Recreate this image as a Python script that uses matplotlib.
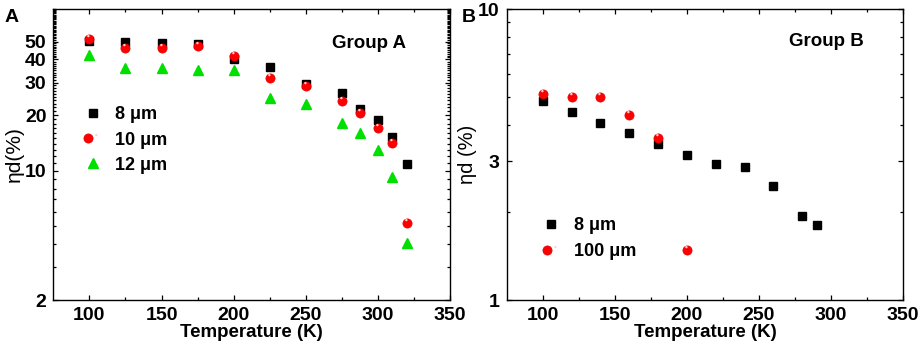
import numpy as np
import matplotlib
matplotlib.use("Agg")
import matplotlib.pyplot as plt
from matplotlib.path import Path
from matplotlib.ticker import FixedLocator, NullFormatter, LogLocator
from matplotlib.legend_handler import HandlerTuple

plt.rcParams["font.family"] = ["Liberation Sans", "DejaVu Sans"]

# ---- 数据：A 组 ----
temp_a = [100, 125, 150, 175, 200, 225, 250, 275, 288, 300, 310, 320]
eta_8um_a = [50.5, 50.0, 49.4, 48.7, 40.2, 36.2, 29.5, 26.3, 21.6, 18.9, 15.3, 10.9]
eta_10um_a = [51.5, 46.2, 46.4, 47.2, 42.0, 31.7, 28.6, 23.8, 20.5, 17.1, 14.2, 5.2]
eta_12um_a = [42.4, 35.9, 35.8, 35.3, 35.0, 24.9, 23.0, 18.1, 16.0, 12.9, 9.3, 4.07]

# ---- 数据：B 组 ----
temp_b_8um = [100, 120, 140, 160, 180, 200, 220, 240, 260, 280, 290]
eta_8um_b = [4.84, 4.44, 4.06, 3.74, 3.44, 3.14, 2.93, 2.86, 2.46, 1.95, 1.81]
temp_b_100um = [100, 120, 140, 160, 180, 200]
eta_100um_b = [5.09, 4.98, 4.98, 4.33, 3.60, 1.485]

yticks_a = [2, 10, 20, 30, 40, 50]
yticks_b = [1, 3, 10]
xticks = [100, 150, 200, 250, 300, 350]

RED = "#ff0000"
GREEN = "#00e000"

# 红球高光：偏左上的小圆点（自定义 marker 路径）
_t = np.linspace(0, 2 * np.pi, 30)
_hl = np.column_stack([-0.12 + 0.13 * np.cos(_t), 0.37 + 0.13 * np.sin(_t)])
_hl = np.vstack([_hl, [[0.5, -0.5], [-0.5, -0.5]]])  # 辅助点，固定缩放
_codes = [Path.MOVETO] + [Path.LINETO] * 29 + [Path.MOVETO, Path.MOVETO]
highlight = Path(_hl, _codes)


def ball(ax, x, y, ms):
    """画带高光的红色小球，返回 legend 用的 handle。"""
    h1, = ax.plot(x, y, "o", color=RED, ms=ms, mec="#e00000", mew=0.5, ls="none")
    h2, = ax.plot(x, y, marker=highlight, color="#ffd0d0", ms=ms, mew=0, ls="none")
    return (h1, h2)


def style_axes(ax):
    for s in ax.spines.values():
        s.set_linewidth(1.0)
    ax.set_xlim(75, 350)
    ax.set_xticks(xticks)
    ax.xaxis.set_minor_locator(FixedLocator([125, 175, 225, 275, 325]))
    ax.tick_params(which="both", direction="in", top=True, right=True, width=0.9)
    ax.tick_params(which="major", length=3.5, labelsize=14, pad=5)
    ax.tick_params(which="minor", length=2)
    for lab in ax.get_xticklabels() + ax.get_yticklabels():
        lab.set_fontweight("bold")
    ax.set_xlabel("Temperature (K)", fontsize=13.5, fontweight="bold", labelpad=0)


fig = plt.figure(figsize=(9.2, 3.52), dpi=100)
hmap = {tuple: HandlerTuple(ndivide=None, pad=0)}

# ---------------- A ----------------
ax1 = fig.add_axes([0.058, 0.1477, 0.431, 0.8267])
ax1.set_yscale("log")
h8, = ax1.plot(temp_a, eta_8um_a, "s", color="black", ms=5.6, ls="none")
h10 = ball(ax1, temp_a, eta_10um_a, 6.6)
h12, = ax1.plot(temp_a, eta_12um_a, "^", color=GREEN, ms=7.2, ls="none")
ax1.set_ylim(2, 75)
ax1.yaxis.set_major_locator(FixedLocator(yticks_a))
ax1.yaxis.set_major_formatter(plt.FuncFormatter(lambda v, p: f"{v:g}"))
minor_a = [v for v in list(range(3, 10)) + list(range(11, 76)) if v not in yticks_a]
ax1.yaxis.set_minor_locator(FixedLocator(minor_a))
ax1.yaxis.set_minor_formatter(NullFormatter())
style_axes(ax1)
ax1.set_ylabel("ηd(%)", fontsize=15, labelpad=1)
ax1.text(0.796, 0.88, "Group A", transform=ax1.transAxes, fontsize=13.5,
         fontweight="bold", ha="center", va="center")
ax1.legend([h8, h10, h12], ["8 μm", "10 μm", "12 μm"], handler_map=hmap,
           loc="upper left", bbox_to_anchor=(0.058, 0.69), frameon=False,
           handlelength=1.0, handletextpad=0.75, labelspacing=0.45,
           borderaxespad=0, prop={"size": 13, "weight": "bold"})
fig.text(0.005, 0.975, "A", fontsize=14, fontweight="bold", va="top")

# ---------------- B ----------------
ax2 = fig.add_axes([0.5507, 0.1477, 0.4311, 0.8267])
ax2.set_yscale("log")
hb8, = ax2.plot(temp_b_8um, eta_8um_b, "s", color="black", ms=5.6, ls="none")
hb100 = ball(ax2, temp_b_100um, eta_100um_b, 6.6)
ax2.set_ylim(1, 10)
ax2.yaxis.set_major_locator(FixedLocator(yticks_b))
ax2.yaxis.set_major_formatter(plt.FuncFormatter(lambda v, p: f"{v:g}"))
ax2.yaxis.set_minor_locator(LogLocator(subs=np.arange(2, 10)))
ax2.yaxis.set_minor_formatter(NullFormatter())
style_axes(ax2)
ax2.set_ylabel("ηd (%)", fontsize=14.5, labelpad=1)
ax2.text(0.805, 0.89, "Group B", transform=ax2.transAxes, fontsize=13.5,
         fontweight="bold", ha="center", va="center")
ax2.legend([hb8, hb100], ["8 μm", "100 μm"], handler_map=hmap,
           loc="upper left", bbox_to_anchor=(0.072, 0.31), frameon=False,
           handlelength=1.0, handletextpad=0.75, labelspacing=0.5,
           borderaxespad=0, prop={"size": 13, "weight": "bold"})
fig.text(0.502, 0.975, "B", fontsize=14, fontweight="bold", va="top")

fig.savefig("out.png", dpi=100)
